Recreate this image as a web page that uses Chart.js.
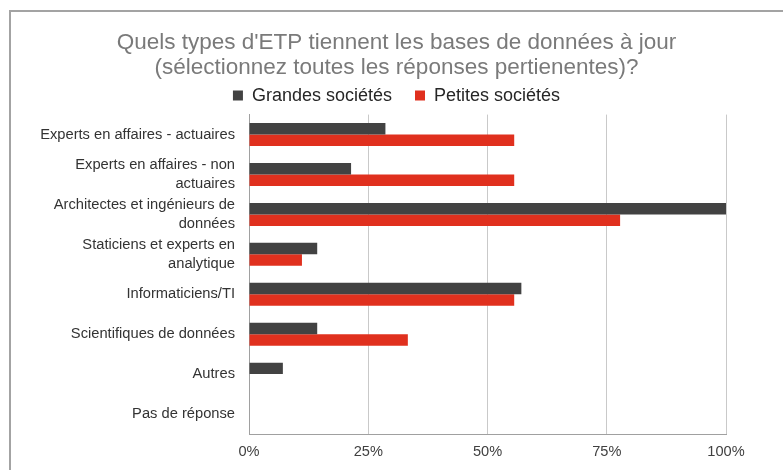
<!DOCTYPE html>
<html lang="fr">
<head>
<meta charset="utf-8">
<title>Types d'ETP – bases de données</title>
<script src="https://cdn.jsdelivr.net/npm/chart.js@4/dist/chart.umd.min.js"></script>
<style>
  html, body { margin: 0; padding: 0; background: #ffffff; }
  #wrap { position: relative; width: 783px; height: 470px; overflow: hidden; }
  #frame {
    position: absolute; left: 9px; top: 10px; width: 900px; height: 600px;
    border-top: 2px solid #a3a3a3; border-left: 2px solid #a3a3a3;
  }
  canvas { position: absolute; left: 0; top: 0; }
</style>
</head>
<body>
<div id="wrap">
  <div id="frame"></div>
  <canvas id="chart" width="783" height="470"></canvas>
</div>
<script>
// Survey categories (multi-line labels as arrays)
const categories = [
  'Experts en affaires - actuaires',
  ['Experts en affaires - non', 'actuaires'],
  ['Architectes et ingénieurs de', 'données'],
  ['Staticiens et experts en', 'analytique'],
  'Informaticiens/TI',
  'Scientifiques de données',
  'Autres',
  'Pas de réponse'
];

// Share of respondents (%) per company size
const grandesSocietes = [28.6, 21.4, 100, 14.3, 57.1, 14.3, 7.1, 0];
const petitesSocietes = [55.6, 55.6, 77.8, 11.1, 55.6, 33.3, 0, 0];

const seriesNames = ['Grandes sociétés', 'Petites sociétés'];
const xTicks = [0, 25, 50, 75, 100];

const titleLines = [
  "Quels types d'ETP tiennent les bases de données à jour",
  '(sélectionnez toutes les réponses pertienentes)?'
];

const FONT = "'Liberation Sans', Arial, sans-serif";

const PAD_LEFT = 10;
const PLOT_LEFT = 249;
const RIGHT_GAP = 57;

new Chart(document.getElementById('chart'), {
  type: 'bar',
  data: {
    labels: categories,
    datasets: [
      {
        label: seriesNames[0],
        data: grandesSocietes,
        backgroundColor: '#424242',
        borderWidth: 0
      },
      {
        label: seriesNames[1],
        data: petitesSocietes,
        backgroundColor: '#e0301e',
        borderWidth: 0
      }
    ]
  },
  options: {
    indexAxis: 'y',
    responsive: false,
    animation: false,
    devicePixelRatio: 1,
    layout: { padding: { left: PAD_LEFT, right: 0, top: 18, bottom: 0 } },
    datasets: {
      bar: { categoryPercentage: 0.575, barPercentage: 1.0 }
    },
    plugins: {
      title: {
        display: true,
        text: titleLines,
        color: '#7a7a7a',
        font: { family: FONT, size: 22.5, weight: 'normal', lineHeight: 1.08 },
        // legend sits close under the title
        padding: { top: 13, bottom: -16 }
      },
      legend: {
        display: true,
        position: 'top',
        labels: {
          color: '#262626',
          font: { family: FONT, size: 18 },
          boxWidth: 10,
          boxHeight: 10,
          padding: 23
        }
      },
      tooltip: { enabled: false }
    },
    scales: {
      x: {
        min: 0,
        max: 100,
        afterBuildTicks: (scale) => {
          scale.ticks = xTicks.map(v => ({ value: v }));
        },
        afterFit: (scale) => { scale.height = 36; },
        grid: {
          display: true,
          color: '#c9c9c9',
          lineWidth: 1,
          drawTicks: false
        },
        border: { display: true, color: '#a0a0a0', width: 1 },
        ticks: {
          padding: 9,
          color: '#404040',
          font: { family: FONT, size: 14.6 },
          callback: (v) => v + '%'
        }
      },
      y: {
        afterFit: (scale) => { scale.width = PLOT_LEFT - PAD_LEFT; },
        grid: { display: false, drawTicks: false },
        border: { display: true, color: '#a0a0a0', width: 1 },
        ticks: {
          autoSkip: false,
          padding: 14,
          color: '#333333',
          font: { family: FONT, size: 14.7, lineHeight: 1.3 }
        }
      },
      // empty right-hand axis that only reserves the blank margin
      yGap: {
        type: 'category',
        position: 'right',
        afterFit: (scale) => { scale.width = RIGHT_GAP; },
        grid: { display: false, drawTicks: false },
        border: { display: false },
        ticks: { display: false }
      }
    }
  }
});
</script>
</body>
</html>
